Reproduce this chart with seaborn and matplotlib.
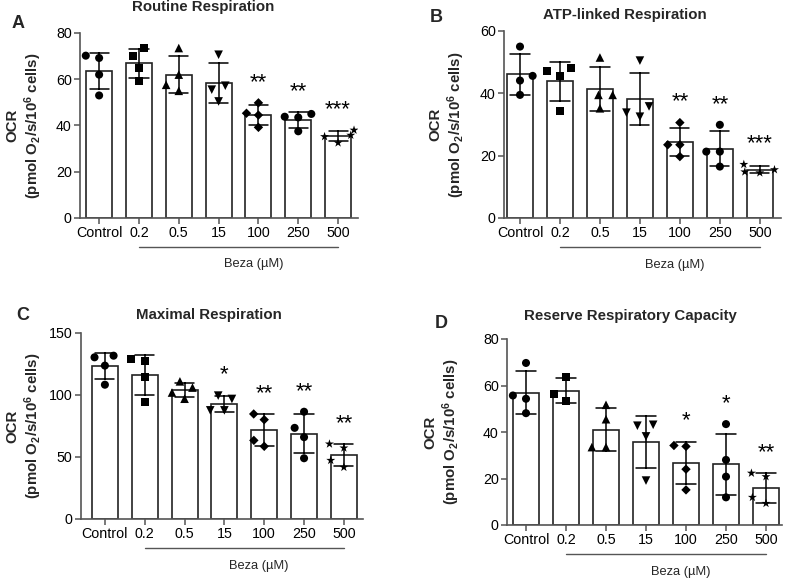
import matplotlib.pyplot as plt
import matplotlib.transforms as mtransforms
import pandas as pd
import seaborn as sns
import numpy as np

# doses on the x axis and the marker GraphPad used for each group
doses = ["Control", "0.2", "0.5", "15", "100", "250", "500"]
markers = ["o", "s", "^", "v", "D", "o", "*"]
marker_sizes = [5.8, 5.8, 6.2, 6.2, 4.8, 5.8, 6.8]

# individual replicate values (OCR, pmol O2/s/10^6 cells)
routine = [
    [69.2, 70.2, 62.0, 53.0],
    [73.5, 69.9, 64.8, 59.1],
    [73.5, 62.0, 57.6, 55.0],
    [70.6, 57.2, 55.5, 50.4],
    [49.8, 45.3, 44.5, 39.2],
    [45.0, 43.5, 43.8, 37.5],
    [38.0, 35.8, 35.2, 32.5],
]
atp_linked = [
    [55.0, 45.6, 44.1, 39.5],
    [48.0, 47.2, 45.6, 34.4],
    [51.5, 39.5, 39.5, 35.2],
    [50.5, 35.8, 33.8, 32.5],
    [30.6, 23.5, 23.5, 19.7],
    [29.9, 21.3, 21.3, 16.5],
    [17.2, 15.5, 14.8, 14.5],
]
maximal = [
    [130.4, 131.7, 123.7, 108.3],
    [127.2, 129.0, 114.5, 94.0],
    [111.0, 106.0, 102.0, 97.0],
    [96.8, 99.5, 87.6, 87.6],
    [80.1, 84.7, 58.6, 63.4],
    [86.5, 73.5, 66.0, 49.0],
    [57.3, 60.5, 47.3, 41.7],
]
reserve = [
    [69.7, 55.7, 54.3, 48.1],
    [63.6, 53.4, 56.3],
    [51.7, 45.5, 33.5, 33.5],
    [42.7, 43.1, 38.1, 19.1],
    [33.8, 34.2, 24.0, 15.1],
    [43.4, 28.0, 20.8, 11.9],
    [20.8, 22.3, 9.3, 11.9],
]

sig_routine = ["", "", "", "", "**", "**", "***"]
sig_atp = ["", "", "", "", "**", "**", "***"]
sig_maximal = ["", "", "", "*", "**", "**", "**"]
sig_reserve = ["", "", "", "", "*", "*", "**"]

titles = ["Routine Respiration", "ATP-linked Respiration",
          "Maximal Respiration", "Reserve Respiratory Capacity"]
letters = ["A", "B", "C", "D"]
y_ticks = [[0, 20, 40, 60, 80], [0, 20, 40, 60], [0, 50, 100, 150], [0, 20, 40, 60, 80]]

all_values = [routine, atp_linked, maximal, reserve]
all_sig = [sig_routine, sig_atp, sig_maximal, sig_reserve]

# layout, in pixels of the 787x579 figure: (left, top, right, bottom)
W, H = 787, 579
rects = [(80, 33, 358, 218), (504, 31, 781, 218), (81, 333, 363, 519), (507, 339, 782, 525)]
xlims = [(-0.48, 6.5), (-0.4, 6.53), (-0.6, 6.48), (-0.475, 6.4)]
title_px = [7, 15, 315, 316]
letter_px = [(18, 23), (436, 18), (23, 315), (441, 323)]
label_px = [36, 37, 37, 45]

sns.set_theme(style="ticks")
plt.rcParams["font.family"] = ["Liberation Sans", "DejaVu Sans"]
plt.rcParams["mathtext.fontset"] = "custom"
plt.rcParams["mathtext.rm"] = "Liberation Sans:bold"
plt.rcParams["mathtext.default"] = "rm"

axis_grey = "#555555"
fig = plt.figure(figsize=(W / 100, H / 100), dpi=100)

for i in range(4):
    l, t, r, b = rects[i]
    ax = fig.add_axes([l / W, 1 - b / H, (r - l) / W, (b - t) / H])

    rows = []
    for dose, vals in zip(doses, all_values[i]):
        for v in vals:
            rows.append({"dose": dose, "ocr": v})
    df = pd.DataFrame(rows)

    sns.barplot(data=df, x="dose", y="ocr", order=doses, errorbar="sd",
                color="white", saturation=1, width=0.65, edgecolor="#222222",
                linewidth=1.2, capsize=0.48,
                err_kws={"color": "black", "linewidth": 1.1}, ax=ax)

    for dose, m, ms in zip(doses, markers, marker_sizes):
        sub = df[df["dose"] == dose]
        sns.swarmplot(data=sub, x="dose", y="ocr", order=doses, marker=m,
                      color="black", size=ms, linewidth=3.5, edgecolor="none",
                      ax=ax, zorder=3)

    ymax = y_ticks[i][-1]
    ax.set_ylim(0, ymax)
    ax.set_yticks(y_ticks[i])
    ax.set_xlim(*xlims[i])
    ax.set_xlabel("")
    ax.set_ylabel("OCR\n(pmol O$_2$/s/10$^6$ cells)", fontsize=10.8,
                  fontweight="bold", linespacing=1.2)
    ax.yaxis.set_label_coords(-label_px[i] / (r - l), 0.5)

    sns.despine(ax=ax)
    for side in ["left", "bottom"]:
        ax.spines[side].set_color(axis_grey)
        ax.spines[side].set_linewidth(1.2)
    ax.tick_params(axis="both", colors=axis_grey, labelcolor="black",
                   labelsize=10.3, length=4, width=1.1, pad=2)

    # significance stars above each group
    for j, (dose, vals) in enumerate(zip(doses, all_values[i])):
        if all_sig[i][j]:
            top = max(max(vals), np.mean(vals) + np.std(vals, ddof=1))
            ax.text(j, top + 0.11 * ymax, all_sig[i][j], ha="center",
                    va="center", fontsize=16, color="black")

    blend = mtransforms.blended_transform_factory(ax.transData, ax.transAxes)
    ax.plot([1, 6], [-0.155, -0.155], transform=blend, clip_on=False,
            color=axis_grey, linewidth=1)
    ax.text(3.87, -0.25, "Beza (µM)", transform=blend, ha="center",
            va="center", fontsize=9.3)
    ax.text(2.62, (b - title_px[i]) / (b - t), titles[i], transform=blend,
            ha="center", va="center", fontsize=10.8, fontweight="bold")

    lx, ly = letter_px[i]
    fig.text(lx / W, 1 - ly / H, letters[i], ha="center", va="center",
             fontsize=13, fontweight="bold")

fig.savefig("out.png", dpi=100)
